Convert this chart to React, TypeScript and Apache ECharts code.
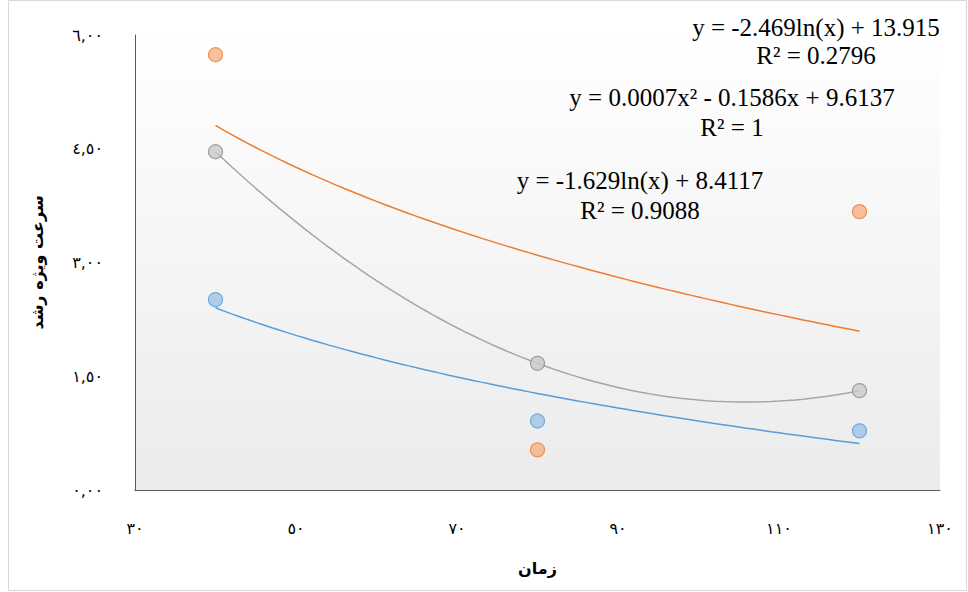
import { useEffect, useRef } from 'react';
import * as echarts from 'echarts';

const xTimes = [40, 80, 120];
const orangeVals = [5.74, 0.53, 3.67];
const grayVals = [4.46, 1.67, 1.31];
const blueVals = [2.51, 0.91, 0.78];

const xTickLabels: Record<number, string> = { 30: '٣٠', 50: '٥٠', 70: '٧٠', 90: '٩٠', 110: '١١٠', 130: '١٣٠' };
const yTickLabels: Record<string, string> = { '0': '٠,٠٠', '1.5': '١,٥٠', '3': '٣,٠٠', '4.5': '٤,٥٠', '6': '٦,٠٠' };

// log trendline coefficients as printed on the chart
const orangeFit = { a: -2.469, b: 13.915 };
const blueFit = { a: -1.629, b: 8.4117 };
const fitXs = Array.from({ length: 81 }, (_, i) => 40 + i);

// the gray polynomial trend (R² = 1) passes through its three points exactly
function quadThrough(xs: number[], ys: number[]) {
  const [x0, x1, x2] = xs;
  const [y0, y1, y2] = ys;
  return (x: number) =>
    y0 * ((x - x1) * (x - x2)) / ((x0 - x1) * (x0 - x2)) +
    y1 * ((x - x0) * (x - x2)) / ((x1 - x0) * (x1 - x2)) +
    y2 * ((x - x0) * (x - x1)) / ((x2 - x0) * (x2 - x1));
}
const grayFit = quadThrough(xTimes, grayVals);

const serif = '"Liberation Serif", "Times New Roman", serif';

export default function App() {
  const ref = useRef<HTMLDivElement>(null);

  useEffect(() => {
    document.body.style.margin = '0';
    if (!ref.current) return;
    const chart = echarts.init(ref.current, undefined, { renderer: 'svg' });
    const pts = (vals: number[]) => xTimes.map((x, i) => [x, vals[i]]);
    const marker = (name: string, vals: number[], fill: string, border: string) => ({
      name, type: 'scatter', data: pts(vals), symbolSize: 14,
      itemStyle: { color: fill, borderColor: border, borderWidth: 1.2 }, z: 3,
    });
    const fitLine = (data: number[][], color: string) => ({
      type: 'line', data, symbol: 'none', smooth: false, silent: true,
      lineStyle: { color, width: 1.5 }, z: 2,
    });
    const eq = (text: string, x: number, y: number) => ({
      type: 'text', x, y,
      style: { text, font: `25px ${serif}`, fill: '#000', align: 'center', verticalAlign: 'middle' },
    });
    chart.setOption({
      animation: false,
      backgroundColor: '#fff',
      grid: {
        left: 135, right: 28, top: 35, bottom: 102, show: true, borderWidth: 0,
        backgroundColor: new echarts.graphic.LinearGradient(0, 0, 0, 1, [
          { offset: 0, color: '#ffffff' },
          { offset: 1, color: '#ebebeb' },
        ]),
      },
      xAxis: {
        type: 'value', min: 30, max: 130, interval: 20,
        name: 'زمان', nameLocation: 'middle', nameGap: 70,
        nameTextStyle: { fontFamily: 'DejaVu Sans', fontWeight: 'bold', fontSize: 16, color: '#000' },
        axisLine: { lineStyle: { color: '#595959' } },
        axisTick: { show: false },
        splitLine: { show: false },
        axisLabel: { formatter: (v: number) => xTickLabels[v] ?? '', color: '#000', fontSize: 16, fontFamily: 'DejaVu Sans', margin: 30 },
      },
      yAxis: {
        type: 'value', min: 0, max: 6, interval: 1.5,
        name: 'سرعت ویژه رشد', nameLocation: 'middle', nameGap: 90, nameRotate: 90,
        nameTextStyle: { fontFamily: 'DejaVu Sans', fontWeight: 'bold', fontSize: 16, color: '#000' },
        axisLine: { show: true, lineStyle: { color: '#595959' } },
        axisTick: { show: false },
        splitLine: { show: false },
        axisLabel: { formatter: (v: number) => yTickLabels[String(v)] ?? '', color: '#000', fontSize: 16, fontFamily: 'DejaVu Sans', margin: 32 },
      },
      series: [
        fitLine(fitXs.map((x) => [x, orangeFit.a * Math.log(x) + orangeFit.b]), '#ED7D31'),
        fitLine(fitXs.map((x) => [x, grayFit(x)]), '#A5A5A5'),
        fitLine(fitXs.map((x) => [x, blueFit.a * Math.log(x) + blueFit.b]), '#5B9BD5'),
        marker('orange', orangeVals, '#F4B183', '#ED7D31'),
        marker('gray', grayVals, '#C9C9C9', '#8C8C8C'),
        marker('blue', blueVals, '#9DC3E6', '#5B9BD5'),
      ],
      graphic: [
        { type: 'rect', shape: { x: 8.5, y: 0.5, width: 958, height: 590 }, style: { fill: 'none', stroke: '#d9d9d9' }, silent: true },
        eq('y = -2.469ln(x) + 13.915', 816, 27),
        eq('R² = 0.2796', 816, 55),
        eq('y = 0.0007x² - 0.1586x + 9.6137', 732, 97),
        eq('R² = 1', 732, 127),
        eq('y = -1.629ln(x) + 8.4117', 640, 180),
        eq('R² = 0.9088', 640, 210),
      ],
    });
    return () => chart.dispose();
  }, []);

  return <div ref={ref} style={{ width: 968, height: 592 }} />;
}
